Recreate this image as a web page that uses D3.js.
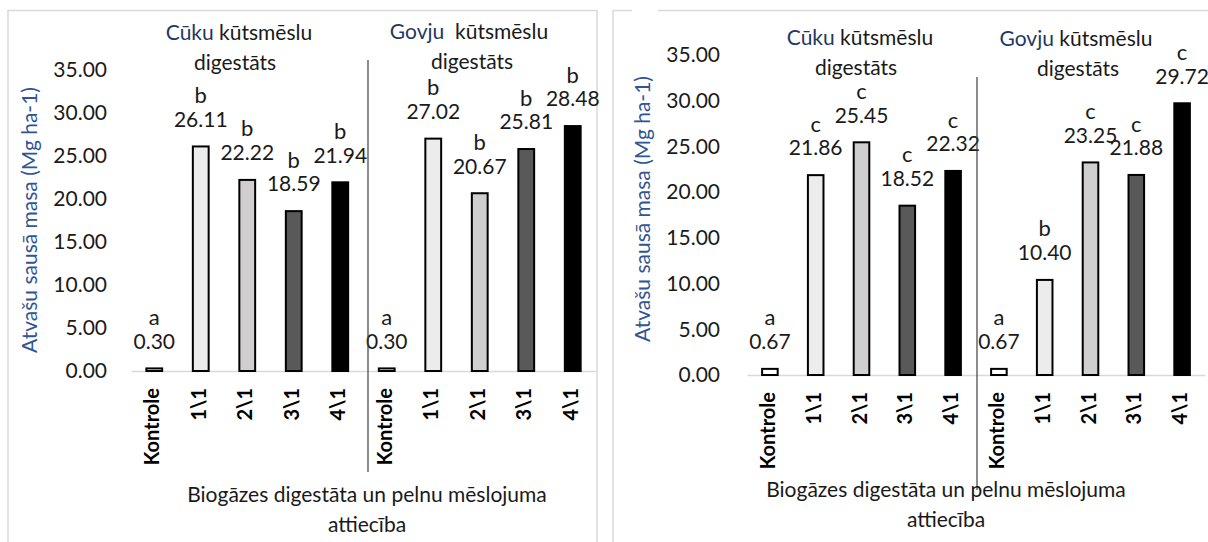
<!DOCTYPE html>
<html>
<head>
<meta charset="utf-8">
<script src="https://cdn.jsdelivr.net/npm/d3@7"></script>
<style>
    body { margin: 0; background: #ffffff; }
    svg { display: block; font-family: Lato, "Open Sans", sans-serif; }
</style>
</head>
<body>
<svg id="chart" width="1208" height="542"></svg>
<script>
const categories = ["Kontrole", "1\\1", "2\\1", "3\\1", "4\\1"];
const yTicks = [0, 5, 10, 15, 20, 25, 30, 35];

// left chart
const pigValuesA = [0.30, 26.11, 22.22, 18.59, 21.94];
const pigLettersA = ["a", "b", "b", "b", "b"];
const cowValuesA = [0.30, 27.02, 20.67, 25.81, 28.48];
const cowLettersA = ["a", "b", "b", "b", "b"];

// right chart
const pigValuesB = [0.67, 21.86, 25.45, 18.52, 22.32];
const pigLettersB = ["a", "c", "c", "c", "c"];
const cowValuesB = [0.67, 10.40, 23.25, 21.88, 29.72];
const cowLettersB = ["a", "b", "c", "c", "c"];

const yTitle = "Atvašu sausā masa (Mg ha-1)";
const xTitle = ["Biogāzes digestāta un pelnu mēslojuma", "attiecība"];

const fills = ["#ffffff", "#ececec", "#d0cece", "#595959", "#000000"];
const navy = "#1f3864";
const blue = "#2f5597";

const svg = d3.select("#chart");

const build_rows = function (pigValues, pigLetters, cowValues, cowLetters) {
    let rows = [];
    categories.forEach((c, i) => {
        rows.push({ key: "p" + i, cat: c, idx: i, value: pigValues[i], letter: pigLetters[i] });
    });
    categories.forEach((c, i) => {
        rows.push({ key: "g" + i, cat: c, idx: i, value: cowValues[i], letter: cowLetters[i] });
    });
    return rows;
}

const draw_chart = function (conf) {
    let g = svg.append("g");
    let rows = conf.rows;

    const x = d3.scaleBand()
        .domain(rows.map(d => d.key))
        .range([conf.x0, conf.x1])
        .paddingInner(0.66)
        .paddingOuter(0.33);

    const y = d3.scaleLinear()
        .domain([0, 35])
        .range([conf.yBase, conf.yTop]);

    // y axis labels only
    let ya = g.append("g")
        .attr("transform", `translate(${conf.x0},0)`)
        .call(d3.axisLeft(y).tickValues(yTicks).tickFormat(d3.format(".2f"))
            .tickSize(0).tickPadding(conf.tickPad));
    ya.select(".domain").remove();
    ya.selectAll("text")
        .attr("font-family", "Lato")
        .attr("font-size", 21)
        .attr("fill", "#1a1a1a");

    // category axis
    let xa = g.append("g")
        .attr("transform", `translate(0,${conf.yBase})`)
        .call(d3.axisBottom(x).tickSize(0).tickSizeOuter(0)
            .tickFormat(k => rows.find(r => r.key === k).cat));
    xa.select(".domain")
        .attr("stroke", "#d9d9d9")
        .attr("stroke-width", 1.6);
    xa.selectAll("text")
        .attr("font-family", "Lato")
        .attr("font-size", 20)
        .attr("font-weight", "bold")
        .attr("fill", "#000")
        .attr("text-anchor", "end")
        .attr("dominant-baseline", "middle")
        .attr("dy", null)
        .attr("y", 0)
        .attr("transform", "translate(0,17) rotate(-90)");

    g.selectAll("rect.bar")
        .data(rows)
        .join("rect")
        .attr("class", "bar")
        .attr("x", d => x(d.key))
        .attr("width", x.bandwidth())
        .attr("y", d => y(d.value))
        .attr("height", d => y(0) - y(d.value))
        .attr("fill", d => fills[d.idx])
        .attr("stroke", "#000")
        .attr("stroke-width", 2);

    g.selectAll("text.val")
        .data(rows)
        .join("text")
        .attr("class", "val")
        .attr("x", d => x(d.key) + x.bandwidth() / 2)
        .attr("y", d => y(d.value) - 25)
        .attr("text-anchor", "middle")
        .attr("dominant-baseline", "middle")
        .attr("font-size", 21)
        .attr("fill", "#1a1a1a")
        .text(d => d.value.toFixed(2));

    g.selectAll("text.let")
        .data(rows)
        .join("text")
        .attr("class", "let")
        .attr("x", d => x(d.key) + x.bandwidth() / 2)
        .attr("y", d => y(d.value) - 49)
        .attr("text-anchor", "middle")
        .attr("dominant-baseline", "middle")
        .attr("font-size", 22)
        .attr("fill", "#1a1a1a")
        .text(d => d.letter);

    // group separator
    g.append("line")
        .attr("x1", conf.sepX).attr("x2", conf.sepX)
        .attr("y1", conf.sepY0).attr("y2", conf.sepY1)
        .attr("stroke", "#404040")
        .attr("stroke-width", 1.2);

    // group titles
    conf.groups.forEach(gr => {
        let t = g.append("text")
            .attr("x", gr.x)
            .attr("y", gr.y)
            .attr("text-anchor", "middle")
            .attr("dominant-baseline", "middle")
            .attr("font-size", 21)
            .attr("fill", "#1a1a1a")
            .style("white-space", "pre");
        t.append("tspan").attr("fill", navy).text(gr.first);
        t.append("tspan").text(gr.rest);
        g.append("text")
            .attr("x", gr.x2)
            .attr("y", gr.y + 30)
            .attr("text-anchor", "middle")
            .attr("dominant-baseline", "middle")
            .attr("font-size", 21)
            .attr("fill", "#1a1a1a")
            .text("digestāts");
    });

    g.append("text")
        .attr("transform", `translate(${conf.titleX},${conf.titleY}) rotate(-90)`)
        .attr("text-anchor", "middle")
        .attr("dominant-baseline", "middle")
        .attr("font-size", 21)
        .attr("fill", blue)
        .text(yTitle);

    xTitle.forEach((s, i) => {
        g.append("text")
            .attr("x", conf.xTitleX)
            .attr("y", conf.xTitleY + i * 30)
            .attr("text-anchor", "middle")
            .attr("dominant-baseline", "middle")
            .attr("font-size", 21)
            .attr("fill", "#1a1a1a")
            .text(s);
    });
}

// frames
svg.append("path")
    .attr("d", "M8,545 L8,10.5 L597,10.5 L597,545")
    .attr("fill", "none")
    .attr("stroke", "#d9d9d9")
    .attr("stroke-width", 1.5);
svg.append("path")
    .attr("d", "M613,545 L613,10.5 L632,10.5 M658,10.5 L1210,10.5")
    .attr("fill", "none")
    .attr("stroke", "#d9d9d9")
    .attr("stroke-width", 1.5);

draw_chart({
    rows: build_rows(pigValuesA, pigLettersA, cowValuesA, cowLettersA),
    x0: 131, x1: 596, yBase: 371, yTop: 70, tickPad: 24,
    sepX: 368, sepY0: 60, sepY1: 472,
    groups: [
        { first: "Cūku", rest: " kūtsmēslu", x: 239, x2: 235, y: 35 },
        { first: "Govju", rest: "  kūtsmēslu", x: 469, x2: 472, y: 34 }
    ],
    titleX: 32, titleY: 220, xTitleX: 367, xTitleY: 497
});

draw_chart({
    rows: build_rows(pigValuesB, pigLettersB, cowValuesB, cowLettersB),
    x0: 747, x1: 1205, yBase: 375, yTop: 55, tickPad: 27,
    sepX: 977, sepY0: 77, sepY1: 490,
    groups: [
        { first: "Cūku", rest: " kūtsmēslu", x: 860, x2: 856, y: 40 },
        { first: "Govju", rest: " kūtsmēslu", x: 1076, x2: 1078, y: 41 }
    ],
    titleX: 645, titleY: 209, xTitleX: 946, xTitleY: 492
});
</script>
</body>
</html>
